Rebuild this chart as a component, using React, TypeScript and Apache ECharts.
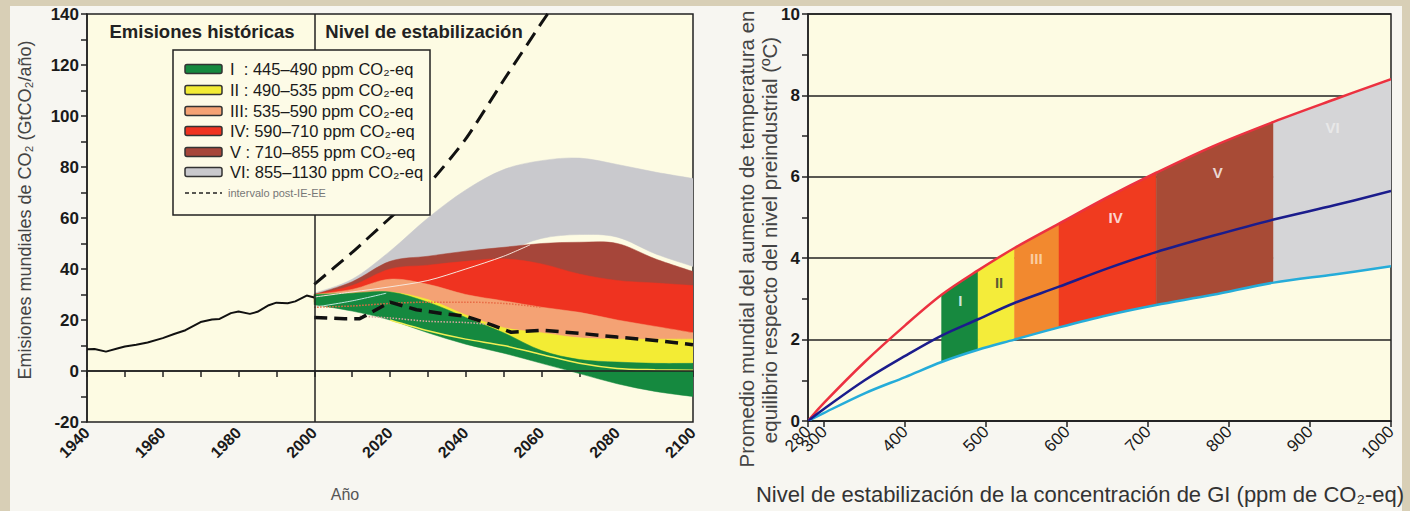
import React, { useEffect, useRef } from "react";
import * as echarts from "echarts";

// ---------- Left panel data ----------
const histYears = [1940, 1942, 1945, 1948, 1950, 1953, 1956, 1960, 1963, 1966, 1970, 1973, 1975, 1978, 1980, 1983, 1985, 1988, 1990, 1993, 1995, 1998, 2000];
const histValues = [8.5, 8.6, 7.6, 8.8, 9.6, 10.3, 11.2, 12.9, 14.5, 16, 19.2, 20.2, 20.4, 22.7, 23.3, 22.4, 23.2, 25.8, 26.8, 26.6, 27.3, 29.6, 28.8];

const futYears = [2000, 2010, 2020, 2030, 2040, 2050, 2060, 2070, 2080, 2090, 2100];
const bandVIUpper = [30.5, 36, 47, 60, 71, 79, 82.5, 83.5, 81, 78, 75.5];
const bandVILower = [29, 33, 40, 43, 45, 47, 52, 53.5, 52.5, 46, 41];
const bandVUpper = [30, 35, 43, 45, 47, 48.5, 50, 50.5, 50, 44, 39];
const bandVLower = [28, 30, 34, 36, 37, 37, 36, 35, 34, 33, 32];
const bandIVUpper = [30, 33.5, 40, 41.5, 43, 44, 42, 38, 35.5, 34.5, 33.5];
const bandIVLower = [27, 27, 28, 27, 26, 25, 22, 20, 18, 15, 13];
const bandIIIUpper = [30, 32, 36, 34, 30, 27.5, 25, 23, 20, 17.5, 15];
const bandIIILower = [26, 25, 24, 22, 19, 16, 14, 13, 12, 11, 10];
const bandIIUpper = [30, 30.5, 31, 28, 22, 17, 15, 13, 12.5, 12.5, 12.5];
const bandIILower = [27, 25, 23, 19, 14, 10, 6, 4, 3.5, 3, 3];
const bandIUpper = [30, 30.5, 31, 27, 21, 15, 8, 4.5, 3.5, 3, 3];
const bandILower = [26, 23.5, 20, 15, 10.5, 7, 3, -1, -5, -8, -10];

const upperPostSresYears = [2000, 2010, 2020, 2030, 2040, 2050, 2060, 2063];
const upperPostSresValues = [34, 46.5, 60, 73, 91, 114, 136.5, 143];
const lowerPostSresYears = [2000, 2008, 2012, 2020, 2027, 2034, 2040, 2047, 2052, 2060, 2070, 2080, 2090, 2100];
const lowerPostSresValues = [21, 20.5, 20.5, 27, 24, 22.5, 21.5, 18, 15.2, 16, 14.8, 13.3, 12, 10.3];

const whiteLineYears = [2000, 2010, 2020, 2030, 2040, 2050, 2057];
const whiteLineValues = [29, 31, 33, 35.5, 40, 45, 49.5];
const yellowLineYears = [2020, 2030, 2040, 2050, 2060, 2070, 2080, 2090, 2100];
const yellowLineValues = [20, 15.8, 12.5, 10, 6.5, 3, 1, 0.5, 0.3];
const cyanLineYears = [2000, 2010, 2019];
const cyanLineValues = [25, 27.5, 30.5];
const salmonDotYears = [2000, 2010, 2020, 2030, 2040, 2050, 2060];
const salmonDotValues = [25, 25.5, 26.5, 27, 27, 26.5, 25];
const pinkDotYears = [2012, 2020, 2030, 2040, 2048];
const pinkDotValues = [21.5, 20.8, 19.5, 19, 18];

const legendLabels = [
  "I  : 445–490 ppm CO₂-eq",
  "II : 490–535 ppm CO₂-eq",
  "III: 535–590 ppm CO₂-eq",
  "IV: 590–710 ppm CO₂-eq",
  "V : 710–855 ppm CO₂-eq",
  "VI: 855–1130 ppm CO₂-eq",
];
const dashLegendLabel = "intervalo post-IE-EE";

// ---------- Right panel data ----------
const concX = [280, 300, 350, 400, 445, 490, 535, 590, 650, 710, 780, 855, 930, 1000];
const tempHigh = [0, 0.45, 1.45, 2.35, 3.1, 3.7, 4.25, 4.85, 5.5, 6.1, 6.75, 7.35, 7.9, 8.4];
const tempBest = [0, 0.3, 1.0, 1.6, 2.1, 2.5, 2.9, 3.3, 3.75, 4.15, 4.55, 4.95, 5.3, 5.65];
const tempLow = [0, 0.2, 0.68, 1.08, 1.45, 1.75, 2.0, 2.3, 2.6, 2.85, 3.1, 3.4, 3.6, 3.8];
const categoryNames = ["I", "II", "III", "IV", "V", "VI"];
const categoryBounds = [[445, 490], [490, 535], [535, 590], [590, 710], [710, 855], [855, 1000]];
const categoryLabelPos = [[468, 2.95], [516, 3.4], [562, 4.0], [660, 5.0], [786, 6.1], [928, 7.2]];
const concTicks = [280, 300, 400, 500, 600, 700, 800, 900, 1000];
const concLabelsMain = [280, 400, 500, 600, 700, 800, 900, 1000];
const concLabelsExtra = [300];

const leftColors = ["#15893f", "#f3ec34", "#f4a274", "#ef3320", "#a6463a", "#c9c9cd"];
const rightColors = ["#17893f", "#f4ec3a", "#f2892f", "#f03b1f", "#a84b36", "#d5d5d7"];
const labelColors = ["#ffffff", "#333333", "#fde0c0", "#ffffff", "#ffffff", "#eeeeee"];

const FONT = "Liberation Sans, Arial, sans-serif";

function pairs(xs: number[], ys: number[]) {
  return xs.map((x, i) => [x, ys[i]]);
}

// Catmull-Rom smoothed path segments over pixel points P from index a to b
function crSegments(P: number[][], a: number, b: number, reverse: boolean): string {
  const n = P.length;
  const g = (i: number) => P[Math.max(0, Math.min(n - 1, i))];
  const segs: string[] = [];
  const idx: number[] = [];
  for (let i = a; i < b; i++) idx.push(i);
  if (reverse) idx.reverse();
  for (const i of idx) {
    const p0 = g(i - 1), p1 = g(i), p2 = g(i + 1), p3 = g(i + 2);
    const c1 = [p1[0] + (p2[0] - p0[0]) / 6, p1[1] + (p2[1] - p0[1]) / 6];
    const c2 = [p2[0] - (p3[0] - p1[0]) / 6, p2[1] - (p3[1] - p1[1]) / 6];
    if (!reverse) segs.push(`C${c1[0]},${c1[1]} ${c2[0]},${c2[1]} ${p2[0]},${p2[1]}`);
    else segs.push(`C${c2[0]},${c2[1]} ${c1[0]},${c1[1]} ${p1[0]},${p1[1]}`);
  }
  return segs.join(" ");
}

function bandSeries(xs: number[], lo: number[], hi: number[], a: number, b: number, color: string, axis: number, name: string) {
  return {
    type: "custom", name, xAxisIndex: axis, yAxisIndex: axis, silent: true, clip: true,
    encode: { x: 0, y: [1, 2] },
    data: xs.map((x, i) => [x, lo[i], hi[i]]),
    renderItem: (params: any, api: any) => {
      if (params.dataIndex !== 0) return null;
      const top = xs.map((x, i) => api.coord([x, hi[i]]));
      const bot = xs.map((x, i) => api.coord([x, lo[i]]));
      const d = `M${top[a][0]},${top[a][1]} ` + crSegments(top, a, b, false) +
        ` L${bot[b][0]},${bot[b][1]} ` + crSegments(bot, a, b, true) + " Z";
      return { type: "path", shape: { pathData: d }, style: { fill: color, stroke: color, lineWidth: 0.5 } };
    },
  };
}

function curveSeries(xs: number[], ys: number[], color: string, axis: number, name: string) {
  return {
    type: "custom", name, xAxisIndex: axis, yAxisIndex: axis, silent: true, clip: true, z: 5,
    encode: { x: 0, y: 1 },
    data: pairs(xs, ys),
    renderItem: (params: any, api: any) => {
      if (params.dataIndex !== 0) return null;
      const P = xs.map((x, i) => api.coord([x, ys[i]]));
      const d = `M${P[0][0]},${P[0][1]} ` + crSegments(P, 0, P.length - 1, false);
      return { type: "path", shape: { pathData: d }, style: { fill: "none", stroke: color, lineWidth: 2.5 } };
    },
  };
}

export default function App() {
  const ref = useRef<HTMLDivElement>(null);
  useEffect(() => {
    document.body.style.margin = "0";
    const chart = echarts.init(ref.current!, undefined, { renderer: "svg" });

    const leftBands = [
      { name: legendLabels[5], lo: bandVILower, hi: bandVIUpper, color: leftColors[5] },
      { name: legendLabels[4], lo: bandVLower, hi: bandVUpper, color: leftColors[4] },
      { name: legendLabels[3], lo: bandIVLower, hi: bandIVUpper, color: leftColors[3] },
      { name: legendLabels[2], lo: bandIIILower, hi: bandIIIUpper, color: leftColors[2] },
      { name: legendLabels[1], lo: bandIILower, hi: bandIIUpper, color: leftColors[1] },
      { name: legendLabels[0], lo: bandILower, hi: bandIUpper, color: leftColors[0] },
    ];

    const series: any[] = [];
    series.push({
      type: "line", xAxisIndex: 0, yAxisIndex: 0, data: [], z: 1, silent: true,
      markLine: {
        silent: true, symbol: ["none", "none"], label: { show: false },
        lineStyle: { color: "#222", width: 1.5, type: "solid" },
        data: [{ yAxis: 0 }],
      },
    });
    leftBands.forEach((b) => {
      series.push(bandSeries(futYears, b.lo, b.hi, 0, futYears.length - 1, b.color, 0, b.name));
    });
    const thin = (xs: number[], ys: number[], color: string, width: number, type: string) => ({
      type: "line", xAxisIndex: 0, yAxisIndex: 0, showSymbol: false, silent: true, smooth: 0.3,
      lineStyle: { color, width, type }, data: pairs(xs, ys),
    });
    series.push(thin(whiteLineYears, whiteLineValues, "#f6e6dc", 1, "solid"));
    series.push(thin(yellowLineYears, yellowLineValues, "#f2ee55", 1.5, "solid"));
    series.push(thin(cyanLineYears, cyanLineValues, "#bfe8dd", 1, "solid"));
    series.push(thin(salmonDotYears, salmonDotValues, "#e86a44", 1.5, "dotted"));
    series.push(thin(pinkDotYears, pinkDotValues, "#d9a6a0", 1.5, "dotted"));
    series.push({
      type: "line", name: dashLegendLabel, xAxisIndex: 0, yAxisIndex: 0, showSymbol: false, silent: true,
      smooth: 0.2, lineStyle: { color: "#111", width: 3, type: [15, 8] },
      data: pairs(upperPostSresYears, upperPostSresValues),
    });
    series.push({
      type: "line", name: dashLegendLabel + " (inferior)", xAxisIndex: 0, yAxisIndex: 0, showSymbol: false, silent: true,
      lineStyle: { color: "#111", width: 3.5, type: [13, 7] },
      data: pairs(lowerPostSresYears, lowerPostSresValues),
    });
    series.push({
      type: "line", name: "Emisiones históricas", xAxisIndex: 0, yAxisIndex: 0, showSymbol: false, silent: true,
      lineStyle: { color: "#111", width: 2 }, z: 10,
      data: pairs(histYears, histValues),
      markLine: {
        silent: true, symbol: ["none", "none"], label: { show: false },
        lineStyle: { color: "#222", width: 1.5, type: "solid" },
        data: [{ xAxis: 2000 }],
      },
    });

    // ---------- right panel ----------
    categoryBounds.forEach((bd, k) => {
      const a = concX.indexOf(bd[0]);
      const b = concX.indexOf(bd[1]);
      series.push(bandSeries(concX, tempLow, tempHigh, a, b, rightColors[k], 1, categoryNames[k]));
    });
    series.push(curveSeries(concX, tempLow, "#25acd9", 1, "Sensibilidad baja"));
    series.push(curveSeries(concX, tempHigh, "#ec3140", 1, "Sensibilidad alta"));
    series.push(curveSeries(concX, tempBest, "#1b1c8c", 1, "Mejor estimación"));
    series.push({
      type: "scatter", xAxisIndex: 1, yAxisIndex: 1, symbolSize: 0, silent: true, z: 6,
      data: categoryNames.map((n, k) => ({
        name: n, value: categoryLabelPos[k],
        label: { color: labelColors[k] },
      })),
      label: {
        show: true, position: "inside", formatter: "{b}",
        fontFamily: FONT, fontWeight: "bold", fontSize: 15,
      },
    });

    const axisLabelY = { fontFamily: FONT, fontWeight: "bold", fontSize: 17, color: "#1a1a1a", margin: 8 };
    const concLabelStyle = { rotate: 45, fontFamily: FONT, fontSize: 17, color: "#1a1a1a", margin: 8, formatter: (v: number) => String(v) };

    const legendRowY = [69, 90, 111, 131, 152, 172];
    const graphics: any[] = [
      { type: "rect", z: -100, shape: { x: 0, y: 0, width: 1410, height: 511 }, style: { fill: "#d8cfb6" }, silent: true },
      { type: "rect", z: -99, shape: { x: 10, y: 6, width: 1392, height: 505 }, style: { fill: "#f7f6f1" }, silent: true },
      {
        type: "text", z: 50, x: 202, y: 31,
        style: { text: "Emisiones históricas", fill: "#222", font: "bold 18.5px " + FONT, textAlign: "center", textVerticalAlign: "middle" },
      },
      {
        type: "text", z: 50, x: 424, y: 31,
        style: { text: "Nivel de estabilización", fill: "#222", font: "bold 18.5px " + FONT, textAlign: "center", textVerticalAlign: "middle" },
      },
      {
        type: "rect", z: 50, shape: { x: 173, y: 50, width: 257, height: 165 },
        style: { fill: "#fdfbe7", stroke: "#222", lineWidth: 1.5 },
      },
      {
        type: "text", z: 50, x: 25, y: 210, rotation: Math.PI / 2,
        style: { text: "Emisiones mundiales de CO₂ (GtCO₂/año)", fill: "#444", font: "18px " + FONT, textAlign: "center", textVerticalAlign: "middle" },
      },
      {
        type: "text", z: 50, x: 345, y: 494,
        style: { text: "Año", fill: "#555", font: "16px " + FONT, textAlign: "center", textVerticalAlign: "middle" },
      },
      {
        type: "text", z: 50, x: 746, y: 239, rotation: Math.PI / 2,
        style: { text: "Promedio mundial del aumento de temperatura en", fill: "#444", font: "20.5px " + FONT, textAlign: "center", textVerticalAlign: "middle" },
      },
      {
        type: "text", z: 50, x: 769, y: 240, rotation: Math.PI / 2,
        style: { text: "equilibrio respecto del nivel preindustrial (ºC)", fill: "#444", font: "20.5px " + FONT, textAlign: "center", textVerticalAlign: "middle" },
      },
      {
        type: "text", z: 50, x: 1080, y: 494,
        style: { text: "Nivel de estabilización de la concentración de GI (ppm de CO₂-eq)", fill: "#333", font: "22px " + FONT, textAlign: "center", textVerticalAlign: "middle" },
      },
      {
        type: "line", z: 51, shape: { x1: 185, y1: 193, x2: 222, y2: 193 },
        style: { stroke: "#222", lineWidth: 1.5, lineDash: [4, 3] },
      },
      {
        type: "text", z: 51, x: 228, y: 193,
        style: { text: dashLegendLabel, fill: "#777", font: "11px " + FONT, textAlign: "left", textVerticalAlign: "middle" },
      },
    ];
    legendRowY.forEach((yy, i) => {
      graphics.push({
        type: "rect", z: 51, shape: { x: 185, y: yy - 4.5, width: 37, height: 9, r: 2 },
        style: { fill: leftColors[i], stroke: "#333", lineWidth: 1.5 },
      });
      graphics.push({
        type: "text", z: 51, x: 230, y: yy,
        style: { text: legendLabels[i], fill: "#1a1a1a", font: "16.5px " + FONT, textAlign: "left", textVerticalAlign: "middle" },
      });
    });

    chart.setOption({
      animation: false,
      backgroundColor: "transparent",
      grid: [
        { left: 87, top: 14, right: 717, bottom: 89, show: true, backgroundColor: "#fdfbe3", borderColor: "#222", borderWidth: 1.5 },
        { left: 808, top: 14, right: 19, bottom: 90, show: true, backgroundColor: "#fdfbe3", borderColor: "#222", borderWidth: 1.5 },
      ],
      xAxis: [
        {
          type: "value", gridIndex: 0, min: 1940, max: 2100, interval: 20,
          axisLine: { lineStyle: { color: "#222", width: 1.5 } },
          axisTick: { length: 6, lineStyle: { color: "#222", width: 1.5 } },
          minorTick: { show: true, splitNumber: 2, length: 6, lineStyle: { color: "#222", width: 1.5 } },
          splitLine: { show: false },
          axisLabel: { rotate: 45, fontFamily: FONT, fontWeight: "bold", fontSize: 16, color: "#1a1a1a", margin: 8, formatter: (v: number) => String(v) },
        },
        {
          type: "value", gridIndex: 1, min: 280, max: 1000, position: "bottom",
          axisLine: { lineStyle: { color: "#222", width: 1.5 } },
          axisTick: { length: 6, lineStyle: { color: "#222", width: 1.5 }, customValues: concTicks },
          splitLine: { show: false },
          axisLabel: { ...concLabelStyle, customValues: concLabelsMain },
        },
        {
          type: "value", gridIndex: 1, min: 280, max: 1000, position: "bottom", offset: 0,
          axisLine: { show: false },
          axisTick: { show: false },
          splitLine: { show: false },
          axisLabel: { ...concLabelStyle, customValues: concLabelsExtra },
        },
      ],
      yAxis: [
        {
          type: "value", gridIndex: 0, min: -20, max: 140, interval: 20,
          axisLine: { show: true, lineStyle: { color: "#222", width: 1.5 } },
          axisTick: { show: true, length: 6, lineStyle: { color: "#222", width: 1.5 } },
          minorTick: { show: true, splitNumber: 2, length: 6, lineStyle: { color: "#222", width: 1.5 } },
          splitLine: { show: false },
          axisLabel: axisLabelY,
        },
        {
          type: "value", gridIndex: 1, min: 0, max: 10, interval: 2,
          axisLine: { show: true, lineStyle: { color: "#222", width: 1.5 } },
          axisTick: { show: true, length: 6, lineStyle: { color: "#222", width: 1.5 } },
          minorTick: { show: true, splitNumber: 2, length: 6, lineStyle: { color: "#222", width: 1.5 } },
          splitLine: { show: true, lineStyle: { color: "#222", width: 1.5 } },
          axisLabel: axisLabelY,
        },
      ],
      graphic: graphics,
      series,
    });
    return () => chart.dispose();
  }, []);
  return <div ref={ref} style={{ width: 1410, height: 511 }} />;
}
